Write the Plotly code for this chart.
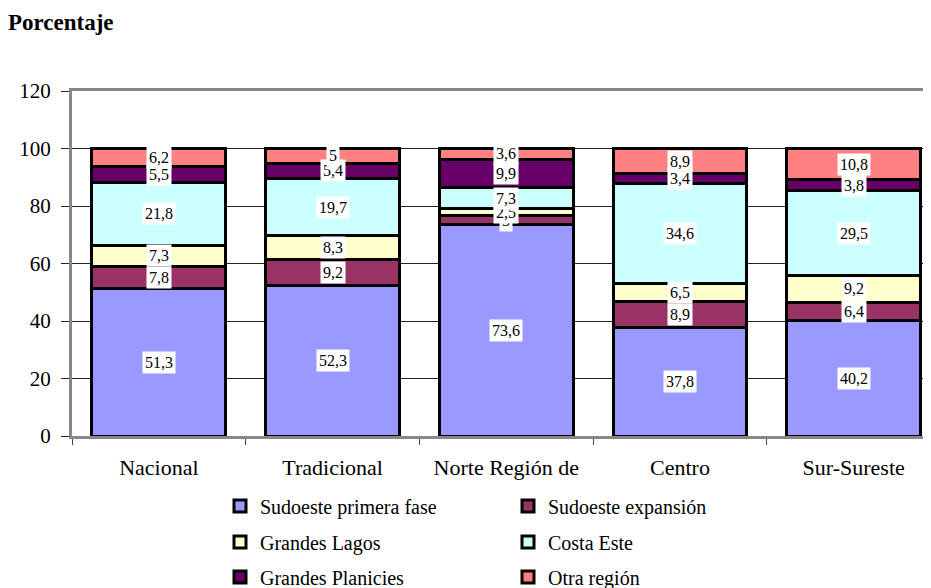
import plotly.graph_objects as go

categories = ["Nacional", "Tradicional", "Norte Región de", "Centro", "Sur-Sureste"]
series_names = ["Sudoeste primera fase", "Sudoeste expansión", "Grandes Lagos",
                "Costa Este", "Grandes Planicies", "Otra región"]
sudoeste_primera = [51.3, 52.3, 73.6, 37.8, 40.2]
sudoeste_expansion = [7.8, 9.2, 3.0, 8.9, 6.4]
grandes_lagos = [7.3, 8.3, 2.5, 6.5, 9.2]
costa_este = [21.8, 19.7, 7.3, 34.6, 29.5]
grandes_planicies = [5.5, 5.4, 9.9, 3.4, 3.8]
otra_region = [6.2, 5.0, 3.6, 8.9, 10.8]
y_ticks = [0, 20, 40, 60, 80, 100, 120]

series_values = [sudoeste_primera, sudoeste_expansion, grandes_lagos,
                 costa_este, grandes_planicies, otra_region]
colors = ["#9999FF", "#993366", "#FFFFCC", "#CCFFFF", "#660066", "#FF8080"]
legend_ids = ["legend", "legend", "legend2", "legend2", "legend3", "legend3"]

FONT = "Liberation Serif, Times New Roman, serif"
OFF = 8  # page body margin offset

W, H = 931 - OFF, 588 - OFF
PL, PT, PB = 72 - OFF, 91 - OFF, 436 - OFF


def fmt(v):
    s = ("%.1f" % v).rstrip("0").rstrip(".")
    return s.replace(".", ",")


fig = go.Figure()
for name, vals, col, lg in zip(series_names, series_values, colors, legend_ids):
    fig.add_trace(go.Bar(
        x=categories, y=vals, name=name, legend=lg,
        marker=dict(color=col, line=dict(color="black", width=3)),
        width=0.77, hoverinfo="skip",
    ))

# data labels with white background
annotations = []
base = [0.0] * len(categories)
for vals in series_values:
    for i, v in enumerate(vals):
        annotations.append(dict(
            x=categories[i], y=base[i] + v / 2, xref="x", yref="y",
            text=fmt(v), showarrow=False, bgcolor="white", borderpad=2,
            font=dict(family=FONT, size=16, color="black"),
        ))
        base[i] += v

legend_common = dict(
    orientation="h", xanchor="left", yanchor="middle", traceorder="normal",
    font=dict(family=FONT, size=20, color="black"),
    entrywidth=243, entrywidthmode="pixels",
    bgcolor="rgba(0,0,0,0)", itemclick=False, itemdoubleclick=False,
)
plot_h = PB - PT
plot_w = W - PL
lx = (220 - 72) / plot_w

fig.update_layout(
    width=W, height=H,
    margin=dict(l=PL, r=0, t=PT, b=H - PB, autoexpand=False),
    barmode="stack",
    plot_bgcolor="white", paper_bgcolor="white",
    title=dict(text="<b>Porcentaje</b>", x=0, y=1 - (22 - OFF) / H,
               xanchor="left", yanchor="middle", xref="container", yref="container",
               font=dict(family=FONT, size=23, color="black")),
    annotations=annotations,
    legend=dict(x=lx, y=(436 - 506) / plot_h, **legend_common),
    legend2=dict(x=lx, y=(436 - 542) / plot_h, **legend_common),
    legend3=dict(x=lx, y=(436 - 577) / plot_h, **legend_common),
    xaxis=dict(
        range=[-0.5, 4.445], showgrid=False, ticks="outside", tickson="boundaries",
        ticklen=6, tickcolor="#444", showline=True, linecolor="#888", linewidth=3,
        mirror=True, ticklabelstandoff=10,
        tickfont=dict(family=FONT, size=22, color="black"),
    ),
    yaxis=dict(
        range=[0, 120], tickvals=y_ticks, showgrid=True, gridcolor="#222", gridwidth=1,
        zeroline=False, ticks="outside", ticklen=8, tickcolor="#222",
        showline=True, linecolor="#888", linewidth=3, mirror=False,
        ticklabelstandoff=6,
        tickfont=dict(family=FONT, size=21, color="black"),
    ),
    showlegend=True,
)

fig.write_html("out.html")
